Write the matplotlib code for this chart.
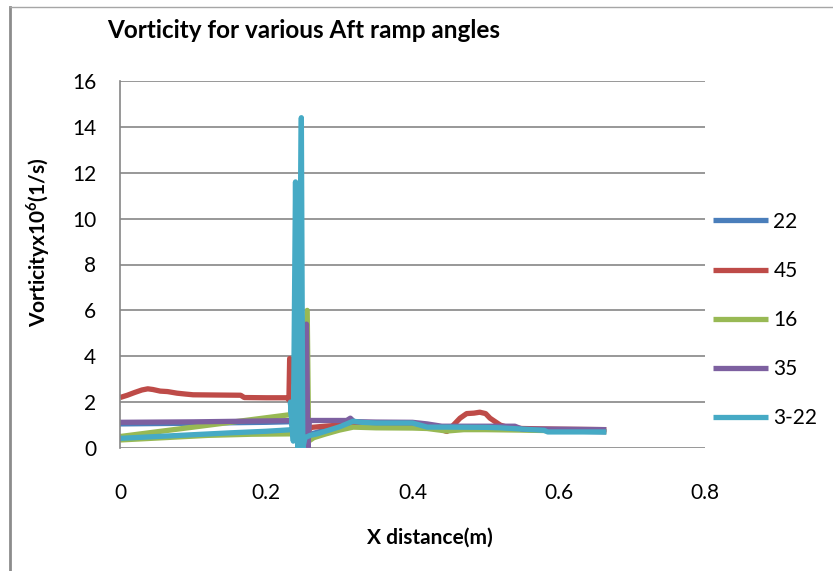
import matplotlib
matplotlib.use("Agg")
import matplotlib.pyplot as plt
from matplotlib.lines import Line2D
import numpy as np

plt.rcParams['font.family'] = ['Lato', 'DejaVu Sans']
plt.rcParams['mathtext.fontset'] = 'custom'
plt.rcParams['mathtext.rm'] = 'Lato'
plt.rcParams['mathtext.bf'] = 'Lato:bold'

nan = np.nan

# series (x in m, vorticity x1e6 1/s)
x_22 = [0.0, 0.1, 0.2, 0.24, 0.245, 0.249, 0.252, 0.26, 0.3, 0.32, 0.4, 0.42, 0.5, 0.58, 0.665]
y_22 = [1.05, 1.08, 1.12, 1.15, 0.1, 4.0, 0.2, 0.6, 0.95, 1.1, 1.08, 0.9, 0.88, 0.77, 0.7]

x_45 = [0.0, 0.01, 0.02, 0.03, 0.038, 0.045, 0.055, 0.065, 0.078, 0.09, 0.1, 0.13, 0.165, 0.17,
        0.2, 0.228, 0.231, 0.232, 0.236, 0.246, 0.255, 0.262, 0.28, 0.3, 0.31, 0.35, 0.4, 0.42,
        0.435, 0.447, 0.456, 0.465, 0.474, 0.484, 0.492, 0.5, 0.506, 0.513, 0.52, 0.53, 0.55, 0.6, 0.665]
y_45 = [2.2, 2.3, 2.42, 2.53, 2.58, 2.55, 2.48, 2.46, 2.39, 2.35, 2.32, 2.31, 2.3, 2.2,
        2.19, 2.19, 2.1, 3.9, 3.8, 0.05, 0.7, 0.9, 0.95, 1.0, 1.05, 1.05, 1.03, 1.0,
        0.85, 0.72, 1.0, 1.3, 1.5, 1.52, 1.56, 1.5, 1.3, 1.15, 1.0, 0.9, 0.85, 0.82, 0.8]

x_16 = [0.0, 0.06, 0.12, 0.18, 0.244, 0.246, 0.256, 0.258, 0.265, 0.28, 0.3, 0.319, 0.35, 0.4,
        0.42, 0.447, 0.47, 0.5, 0.55, 0.6, 0.665, nan, 0.0, 0.244]
y_16 = [0.35, 0.45, 0.55, 0.6, 0.62, 0.0, 6.0, 0.3, 0.45, 0.6, 0.78, 0.91, 0.88, 0.87,
        0.85, 0.74, 0.8, 0.8, 0.78, 0.75, 0.72, nan, 0.5, 1.5]

x_35 = [0.0, 0.05, 0.1, 0.15, 0.2, 0.244, 0.25, 0.255, 0.257, 0.259, 0.28, 0.31, 0.315, 0.32,
        0.35, 0.4, 0.42, 0.44, 0.49, 0.54, 0.55, 0.6, 0.665]
y_35 = [1.12, 1.13, 1.14, 1.16, 1.18, 1.2, 0.0, 5.4, 0.0, 1.2, 1.2, 1.2, 1.3, 1.15,
        1.13, 1.12, 1.05, 0.95, 0.95, 0.95, 0.82, 0.82, 0.8]

x_322 = [0.0, 0.05, 0.1, 0.15, 0.2, 0.236, 0.233, 0.237, 0.24, 0.243, 0.248, 0.25, 0.253, 0.26,
         0.27, 0.28, 0.29, 0.3, 0.31, 0.319, 0.33, 0.35, 0.4, 0.42, 0.45, 0.5, 0.52, 0.58, 0.585, 0.665]
y_322 = [0.42, 0.5, 0.58, 0.66, 0.73, 0.8, 2.0, 0.3, 11.6, 0.0, 14.4, 0.0, 0.45, 0.55,
         0.62, 0.72, 0.82, 0.92, 1.05, 1.17, 1.12, 1.09, 1.09, 0.91, 0.91, 0.9, 0.88, 0.77, 0.7, 0.7]

labels = ['22', '45', '16', '35', '3-22']
colors = ['#4A7EBB', '#BE4B48', '#98B954', '#7D60A0', '#46AAC5']
xs = [x_22, x_45, x_16, x_35, x_322]
ys = [y_22, y_45, y_16, y_35, y_322]

fig = plt.figure(figsize=(8.33, 5.71), dpi=100)
ax = fig.add_axes([120/833, 1-448/571, 585/833, 367/571])

for x, y, c, l in zip(xs, ys, colors, labels):
    ax.plot(x, y, color=c, lw=3.8, label=l, solid_joinstyle='round', solid_capstyle='butt')

ax.set_xlim(0, 0.8)
ax.set_ylim(0, 16)
ax.set_xticks([0, 0.2, 0.4, 0.6, 0.8])
ax.set_xticklabels(['0', '0.2', '0.4', '0.6', '0.8'])
ax.set_yticks(range(0, 17, 2))
ax.tick_params(length=0, labelsize=15)
ax.tick_params(axis='y', pad=17)
ax.tick_params(axis='x', pad=25)
ax.yaxis.grid(True, color='#868686', lw=1.2)
ax.set_axisbelow(True)
for s in ['top', 'right', 'bottom']:
    ax.spines[s].set_visible(False)
ax.spines['left'].set_color('#868686')
ax.spines['left'].set_linewidth(1.2)

fig.text(107/833, 1-30/571, 'Vorticity for various Aft ramp angles', fontsize=17.5,
         fontweight='bold', va='center', ha='left')
fig.text(38/833, 1-242/571, r'Vorticityx10$^{\mathbf{6}}$(1/s)', fontsize=15,
         fontweight='bold', rotation=90, va='center', ha='center')
fig.text(430/833, 1-538/571, 'X distance(m)', fontsize=15, fontweight='bold',
         va='center', ha='center')

ax.legend(loc='center left', bbox_to_anchor=(713/833, 1-320/571), bbox_transform=fig.transFigure,
          frameon=False, fontsize=15, handlelength=2.65, handletextpad=0.25, labelspacing=1.4,
          borderpad=0, borderaxespad=0)

# outer chart border
fig.add_artist(Line2D([10/833, 10/833], [0, 1-7/571], color='#8C8C8C', lw=2))
fig.add_artist(Line2D([10/833, 1], [1-7/571, 1-7/571], color='#A6A6A6', lw=1))

fig.savefig('out.png', dpi=100)
